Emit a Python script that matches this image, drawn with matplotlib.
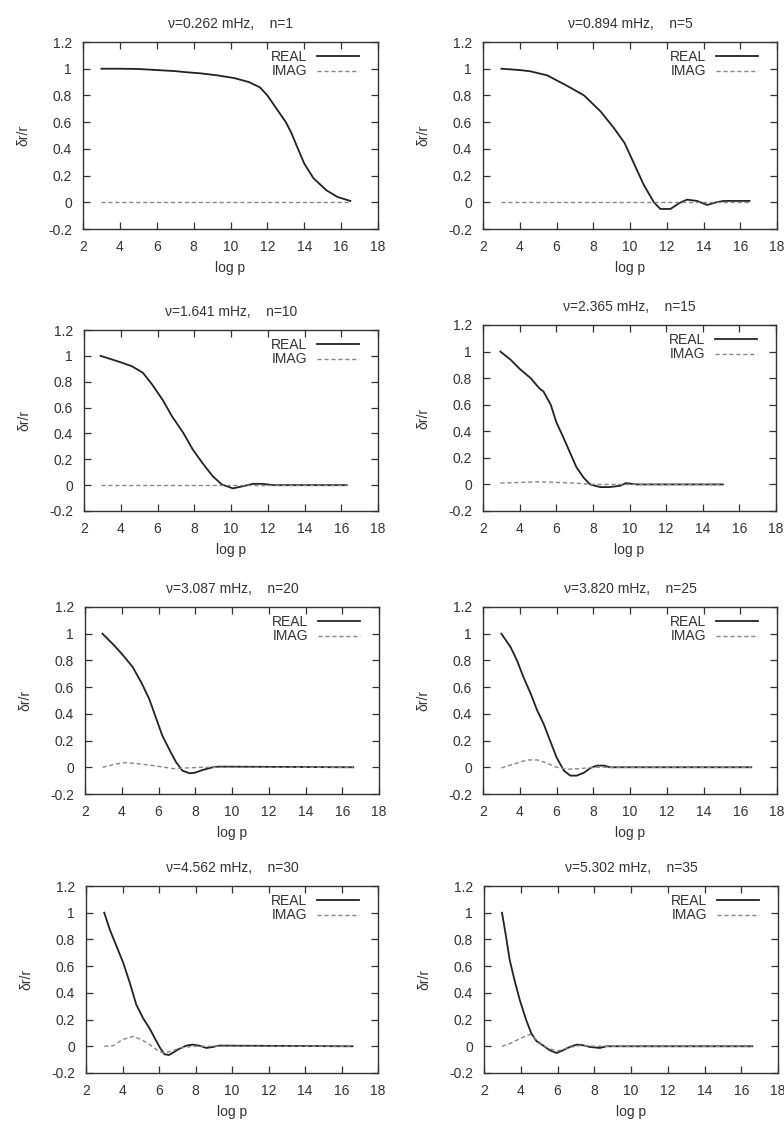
import matplotlib
matplotlib.use("Agg")
import matplotlib.pyplot as plt
from matplotlib.ticker import MultipleLocator, FuncFormatter

plt.rcParams['font.family'] = ['Liberation Sans', 'DejaVu Sans']

titles = ["ν=0.262 mHz,    n=1", "ν=0.894 mHz,    n=5",
          "ν=1.641 mHz,    n=10", "ν=2.365 mHz,    n=15",
          "ν=3.087 mHz,    n=20", "ν=3.820 mHz,    n=25",
          "ν=4.562 mHz,    n=30", "ν=5.302 mHz,    n=35"]

# Panel 1
x_real1 = [3.0, 4.0, 5.0, 6.0, 7.0, 7.5, 8.4, 9.3, 10.2, 11.0, 11.6, 12.0, 12.5, 13.0, 13.3, 13.6, 14.0, 14.5, 15.2, 15.8, 16.5]
real1 = [1.0, 1.0, 0.998, 0.99, 0.982, 0.975, 0.965, 0.95, 0.93, 0.9, 0.86, 0.80, 0.70, 0.6, 0.52, 0.42, 0.29, 0.18, 0.09, 0.04, 0.01]
x_imag1 = [3.0, 6.0, 9.0, 12.0, 16.5]
imag1 = [0.0, 0.0, 0.0, 0.0, 0.0]

# Panel 2
x_real2 = [3.0, 4.0, 4.6, 5.5, 6.6, 7.5, 8.4, 9.1, 9.7, 10.2, 10.75, 11.3, 11.65, 12.2, 12.7, 13.1, 13.65, 14.2, 14.7, 15.1, 16.5]
real2 = [1.0, 0.99, 0.98, 0.95, 0.87, 0.80, 0.68, 0.56, 0.445, 0.295, 0.13, 0.0, -0.05, -0.05, -0.005, 0.02, 0.01, -0.02, 0.0, 0.01, 0.01]
x_imag2 = [3.0, 6.0, 9.0, 12.0, 16.5]
imag2 = [0.0, 0.0, 0.0, 0.0, 0.0]

# Panel 3
x_real3 = [2.9, 3.9, 4.6, 5.2, 5.7, 6.3, 6.8, 7.4, 7.9, 8.45, 9.0, 9.5, 10.1, 10.6, 11.2, 11.7, 12.3, 16.3]
real3 = [1.0, 0.955, 0.92, 0.87, 0.78, 0.655, 0.53, 0.405, 0.28, 0.17, 0.07, 0.005, -0.025, -0.01, 0.01, 0.01, 0.0, 0.0]
x_imag3 = [2.9, 6.0, 9.0, 12.0, 16.3]
imag3 = [0.0, 0.0, 0.0, 0.0, 0.0]

# Panel 4
x_real4 = [2.95, 3.5, 4.0, 4.6, 5.1, 5.3, 5.7, 6.0, 6.4, 6.75, 7.1, 7.5, 7.85, 8.4, 8.9, 9.5, 9.8, 10.4, 15.1]
real4 = [1.0, 0.94, 0.87, 0.80, 0.72, 0.70, 0.60, 0.47, 0.35, 0.24, 0.13, 0.05, 0.0, -0.02, -0.02, -0.01, 0.01, 0.0, 0.0]
x_imag4 = [2.95, 4.0, 5.0, 6.0, 7.0, 8.0, 15.1]
imag4 = [0.01, 0.015, 0.02, 0.015, 0.01, 0.0, 0.0]

# Panel 5
x_real5 = [2.95, 3.5, 4.0, 4.6, 5.1, 5.5, 5.85, 6.2, 6.6, 6.95, 7.3, 7.7, 8.0, 8.4, 8.95, 9.3, 16.6]
real5 = [1.0, 0.925, 0.85, 0.75, 0.625, 0.51, 0.375, 0.24, 0.13, 0.04, -0.025, -0.045, -0.04, -0.02, 0.0, 0.005, 0.0]
x_imag5 = [2.95, 3.7, 4.2, 5.0, 5.85, 6.8, 7.5, 8.5, 16.6]
imag5 = [0.0, 0.025, 0.035, 0.025, 0.01, -0.01, -0.005, 0.0, 0.0]

# Panel 6
x_real6 = [3.0, 3.5, 3.85, 4.2, 4.6, 4.95, 5.3, 5.65, 6.0, 6.4, 6.75, 7.1, 7.5, 7.85, 8.2, 8.6, 8.9, 16.6]
real6 = [1.0, 0.9, 0.8, 0.675, 0.55, 0.425, 0.325, 0.2, 0.075, -0.025, -0.0625, -0.0625, -0.04, -0.005, 0.0125, 0.0125, 0.0, 0.0]
x_imag6 = [3.0, 3.7, 4.4, 4.95, 5.5, 6.0, 6.6, 7.3, 8.0, 16.6]
imag6 = [-0.005, 0.025, 0.055, 0.055, 0.03, 0.0, -0.015, -0.01, 0.0, 0.0]

# Panel 7
x_real7 = [3.0, 3.3, 3.67, 4.04, 4.4, 4.76, 5.13, 5.5, 5.85, 6.05, 6.3, 6.55, 6.8, 7.1, 7.5, 7.85, 8.2, 8.6, 8.95, 9.3, 16.6]
real7 = [1.0, 0.875, 0.75, 0.625, 0.475, 0.31, 0.21, 0.13, 0.04, -0.01, -0.06, -0.065, -0.045, -0.02, 0.005, 0.0125, 0.005, -0.0125, -0.005, 0.005, 0.0]
x_imag7 = [3.0, 3.5, 4.0, 4.6, 5.1, 5.5, 5.85, 6.2, 6.6, 7.2, 8.0, 16.6]
imag7 = [0.0, 0.005, 0.05, 0.075, 0.045, 0.0125, -0.025, -0.05, -0.04, -0.01, 0.0, 0.0]

# Panel 8
x_real8 = [2.98, 3.2, 3.4, 3.67, 3.95, 4.3, 4.58, 4.85, 5.2, 5.58, 5.95, 6.3, 6.67, 7.05, 7.4, 7.76, 8.3, 8.67, 16.6]
real8 = [1.0, 0.82, 0.645, 0.49, 0.345, 0.195, 0.095, 0.04, 0.0075, -0.03, -0.05, -0.03, -0.005, 0.0125, 0.0075, -0.005, -0.0125, 0.0, 0.0]
x_imag8 = [2.98, 3.4, 3.95, 4.5, 4.85, 5.2, 5.6, 6.0, 6.6, 7.2, 8.0, 16.6]
imag8 = [0.0, 0.02, 0.057, 0.09, 0.05, 0.0075, -0.02, -0.035, -0.01, 0.005, 0.0, 0.0]

panels = [(x_real1, real1, x_imag1, imag1), (x_real2, real2, x_imag2, imag2),
          (x_real3, real3, x_imag3, imag3), (x_real4, real4, x_imag4, imag4),
          (x_real5, real5, x_imag5, imag5), (x_real6, real6, x_imag6, imag6),
          (x_real7, real7, x_imag7, imag7), (x_real8, real8, x_imag8, imag8)]

W, H = 784, 1121
# pixel boxes (left, top, right, bottom)
boxes = [(83, 42, 378, 229), (483, 42, 777, 229),
         (84, 330, 378, 511), (483, 325, 776, 511),
         (85, 607, 379, 794), (483, 607, 777, 794),
         (86, 886, 378, 1073), (484, 886, 778, 1073)]

fig = plt.figure(figsize=(W / 100, H / 100), dpi=100)
fs = 10

def fmt(v, pos):
    s = '%g' % round(v, 2)
    return '0' if s in ('-0', '0') else s

for i, (xr, yr, xi, yi) in enumerate(panels):
    l, t, r, b = boxes[i]
    ax = fig.add_axes([l / W, 1 - b / H, (r - l) / W, (b - t) / H])
    ax.plot(xr, yr, color='#222222', lw=1.3, label='REAL')
    ax.plot(xi, yi, color='#888888', lw=1.0, ls=(0, (3, 2)), label='IMAG')
    ax.set_xlim(2, 18)
    ax.set_ylim(-0.2, 1.2)
    ax.xaxis.set_major_locator(MultipleLocator(2))
    ax.yaxis.set_major_locator(MultipleLocator(0.2))
    ax.yaxis.set_major_formatter(FuncFormatter(fmt))
    ax.xaxis.set_major_formatter(FuncFormatter(fmt))
    ax.tick_params(direction='in', top=True, right=True, length=5, width=0.9,
                   labelsize=fs, colors='#333333', pad=8)
    for sp in ax.spines.values():
        sp.set_linewidth(1.0)
        sp.set_color('#333333')
    ax.set_title(titles[i], fontsize=fs, pad=10, color='#333333')
    ax.set_xlabel('log p', fontsize=fs, color='#333333', labelpad=5)
    ax.set_ylabel('δr/r', fontsize=fs, color='#333333')
    ax.yaxis.set_label_coords(-0.18, 0.5)
    leg = ax.legend(loc='upper right', bbox_to_anchor=(0.953, 0.988),
                    frameon=False, markerfirst=False,
                    fontsize=fs, handlelength=3.0, handletextpad=0.7,
                    labelspacing=0.05, borderaxespad=0.0)
    for txt in leg.get_texts():
        txt.set_color('#333333')

fig.savefig('out.png', dpi=100, facecolor='white')
